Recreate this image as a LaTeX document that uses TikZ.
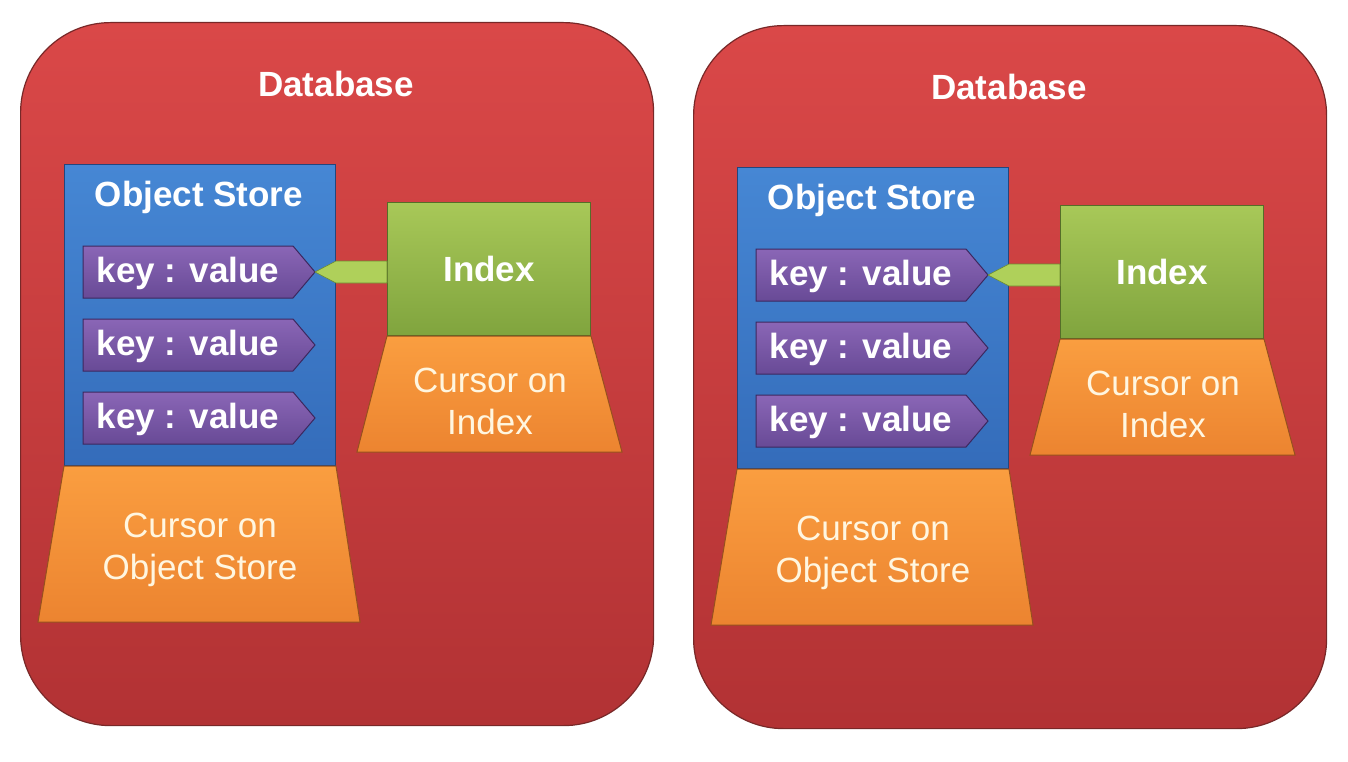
\documentclass[tikz,border=0pt]{standalone}
\usepackage{fontspec}
\setmainfont{Liberation Sans}
\usetikzlibrary{calc}
\definecolor{dbtop}{RGB}{218,72,72}
\definecolor{dbbot}{RGB}{178,50,52}
\definecolor{dbedge}{RGB}{120,40,40}
\definecolor{ostop}{RGB}{70,135,212}
\definecolor{osbot}{RGB}{52,108,186}
\definecolor{osedge}{RGB}{35,70,125}
\definecolor{kvtop}{RGB}{138,102,182}
\definecolor{kvbot}{RGB}{104,74,150}
\definecolor{kvedge}{RGB}{60,40,95}
\definecolor{ixtop}{RGB}{168,200,88}
\definecolor{ixbot}{RGB}{128,164,62}
\definecolor{ixedge}{RGB}{85,110,40}
\definecolor{crtop}{RGB}{250,158,64}
\definecolor{crbot}{RGB}{236,132,48}
\definecolor{credge}{RGB}{150,80,30}
\definecolor{lnk}{RGB}{175,208,90}
\definecolor{lnkedge}{RGB}{110,140,50}
\definecolor{cream}{RGB}{255,246,224}
\tikzset{
  dbbox/.style={draw=dbedge, line width=1.2pt, rounded corners=90pt, top color=dbtop, bottom color=dbbot, minimum width=633pt, minimum height=703pt, inner sep=0pt, anchor=north west},
  storebox/.style={draw=osedge, line width=1pt, top color=ostop, bottom color=osbot, minimum width=271pt, minimum height=301pt, inner sep=0pt, anchor=north west},
  indexbox/.style={draw=ixedge, line width=1pt, top color=ixtop, bottom color=ixbot, minimum width=203pt, minimum height=133pt, inner sep=0pt, anchor=north west, text=white, font=\fontsize{35}{42}\selectfont\bfseries},
  kvshape/.style={draw=kvedge, line width=1pt, top color=kvtop, bottom color=kvbot},
  cursorshape/.style={draw=credge, line width=1pt, top color=crtop, bottom color=crbot},
  linkshape/.style={draw=lnkedge, line width=0.6pt, fill=lnk},
  titletext/.style={text=white, font=\fontsize{35}{42}\selectfont\bfseries, inner sep=0pt},
  cursortext/.style={text=cream, font=\fontsize{35}{42}\selectfont, align=center, inner sep=0pt},
}
\newcommand{\dbpanel}{%
  \node[dbbox] (db) at (20,22) {};
  \node[titletext] (dbtitle) at (336,84) {Database};
  \node[storebox] (os) at (64,164) {};
  \node[titletext] (ostitle) at (199,197) {Object Store};
  \foreach \i/\yt in {1/246,2/319,3/392}{%
    \path[kvshape] (83,\yt) -- (293,\yt) -- (315,\yt+26) -- (293,\yt+52) -- (83,\yt+52) -- cycle;
    \coordinate (kv\i tip) at (315,\yt+26);
    \node[titletext] (kv\i) at (188,\yt+27) {key : value};
  }
  \node[indexbox] (idx) at (387,202) {Index};
  \path[cursorshape] (idx.south west) -- (idx.south east) -- (622,452) -- (357,452) -- cycle;
  \node[cursortext] (ci) at (490,401) {Cursor on\\Index};
  \path[cursorshape] (os.south west) -- (os.south east) -- (360,622) -- (38,622) -- cycle;
  \node[cursortext] (co) at (200,550) {Cursor on\\Object Store};
  \path[linkshape] ($(idx.west |- kv1tip)+(0,-11)$) -- ($(kv1tip)+(21,-11)$) -- (kv1tip) -- ($(kv1tip)+(21,11)$) -- ($(idx.west |- kv1tip)+(0,11)$) -- cycle;
}
\begin{document}
\begin{tikzpicture}[x=1pt,y=-1pt]
  \useasboundingbox (0,0) rectangle (1348,762);
  \fill[white] (0,0) rectangle (1348,762);
  \begin{scope}[name prefix=L-]
    \dbpanel
  \end{scope}
  \begin{scope}[shift={(673,3)}, name prefix=R-]
    \dbpanel
  \end{scope}
\end{tikzpicture}
\end{document}
